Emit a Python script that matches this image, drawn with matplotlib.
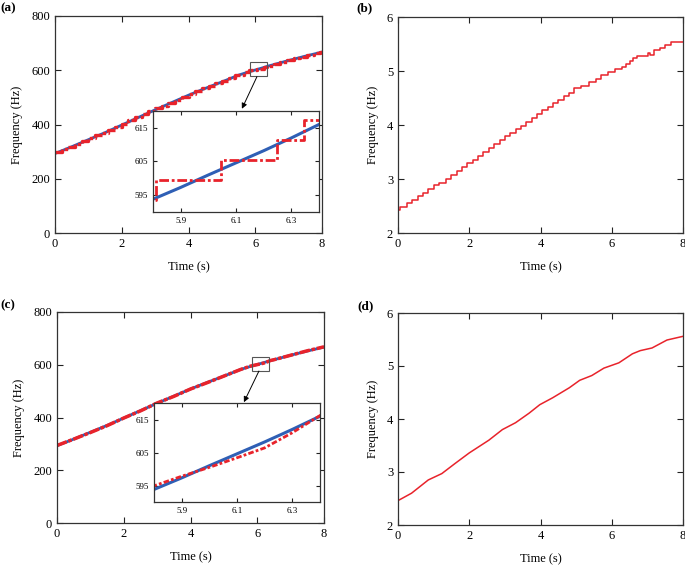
import numpy as np
import matplotlib
matplotlib.use("Agg")
import matplotlib.pyplot as plt
from matplotlib.patches import Rectangle

plt.rcParams['font.family'] = ['Liberation Serif', 'DejaVu Serif']

# reference frequency (blue) for (a) and (c)
t_ref = [0, 0.5, 1, 1.5, 2, 2.5, 3, 3.5, 4, 4.5, 5, 5.5, 5.8, 5.9, 6.0, 6.1, 6.2, 6.3, 6.4, 6.5, 7, 7.5, 8]
f_ref = [293, 318, 344, 370, 398, 426, 454, 481, 508, 533, 557, 582, 593.8, 597.3, 601, 604.6, 608.2, 612, 616, 619, 636, 652, 667]

# (a) stepped estimate (red dash-dot)
t_step_a = [0, 0.2, 0.4, 0.6, 0.8, 1.0, 1.2, 1.4, 1.6, 1.8, 2.0, 2.2, 2.4, 2.6, 2.8, 3.0,
            3.2, 3.4, 3.6, 3.8, 4.0, 4.2, 4.4, 4.6, 4.8, 5.0, 5.2, 5.4, 5.65, 5.812, 6.045,
            6.248, 6.344, 6.55, 6.75, 6.95, 7.15, 7.35, 7.55, 7.75, 7.95, 8.0]
f_step_a = [298, 308, 318, 329, 339, 349, 360, 370, 381, 392, 403, 415, 426, 437, 448, 460,
            470, 481, 492, 502, 513, 523, 533, 542, 552, 562, 572, 581, 593.7, 599.6, 605.4,
            611.3, 617.2, 624, 631, 638, 644, 650, 656, 662, 667, 667]

# (c) smooth estimate (red)
t_est_c = [0, 0.5, 1, 1.5, 2, 2.5, 3, 3.5, 4, 4.5, 5, 5.5, 5.8, 5.9, 6.0, 6.1, 6.2, 6.3, 6.4, 6.5, 7, 7.5, 8]
f_est_c = [294, 318, 343, 369, 398, 425, 455, 480, 508, 532, 557, 582, 594.9, 597.8, 600.5, 603.4, 606.4, 611, 616.2, 619, 636, 653, 668]

# (b) stepped rate estimate
t_b = [0, 0.05, 0.25, 0.4, 0.55, 0.7, 0.85, 1.0, 1.15, 1.35, 1.5, 1.65, 1.8, 1.95, 2.1, 2.25,
       2.4, 2.55, 2.7, 2.85, 3.0, 3.15, 3.3, 3.45, 3.6, 3.75, 3.9, 4.05, 4.2, 4.35, 4.5, 4.65,
       4.8, 4.95, 5.15, 5.35, 5.55, 5.7, 5.9, 6.1, 6.3, 6.4, 6.5, 6.6, 6.7, 7.02, 7.06, 7.2,
       7.35, 7.5, 7.65, 8.0]
f_b = [2.43, 2.48, 2.55, 2.61, 2.68, 2.75, 2.82, 2.88, 2.93, 3.0, 3.08, 3.15, 3.22, 3.3, 3.36, 3.43,
       3.5, 3.57, 3.64, 3.72, 3.8, 3.85, 3.92, 3.99, 4.06, 4.13, 4.2, 4.27, 4.33, 4.4, 4.46, 4.53,
       4.6, 4.68, 4.73, 4.79, 4.86, 4.92, 4.99, 5.03, 5.08, 5.13, 5.19, 5.24, 5.28, 5.33, 5.29, 5.38,
       5.43, 5.49, 5.53, 5.53]

# (d) smooth rate estimate
t_d = [0, 0.38, 0.85, 1.23, 1.6, 2.0, 2.55, 2.93, 3.3, 3.68, 3.98, 4.34, 4.81, 5.1, 5.44, 5.78,
       6.2, 6.58, 6.8, 7.13, 7.55, 8.0]
f_d = [2.46, 2.6, 2.85, 2.97, 3.16, 3.36, 3.6, 3.8, 3.93, 4.11, 4.27, 4.4, 4.59, 4.73, 4.82, 4.96,
       5.06, 5.23, 5.29, 5.34, 5.49, 5.56]

BLUE = '#2f5fb5'
RED = '#e8232b'
W, H = 685, 566

fig = plt.figure(figsize=(W / 100, H / 100), dpi=100)


def box(l, t, r, b):
    return [l / W, 1 - b / H, (r - l) / W, (b - t) / H]


def style(ax, fs=9):
    ax.tick_params(direction='in', top=True, right=True, length=4, width=0.8,
                   labelsize=fs, colors='#222222', labelcolor='black')
    for s in ax.spines.values():
        s.set_linewidth(0.9)
        s.set_color('#333333')


def draw_est(ax, t, f, kw, step):
    if step:
        ax.plot(t, f, drawstyle='steps-post', **kw)
    else:
        ax.plot(t, f, **kw)


def freq_panel(rect, inset_rect, est_t, est_f, main_kw, ins_kw, step):
    ax = fig.add_axes(box(*rect))
    ax.plot(t_ref, f_ref, color=BLUE, lw=2.0)
    draw_est(ax, est_t, est_f, main_kw, step)
    ax.set_xlim(0, 8)
    ax.set_ylim(0, 800)
    ax.set_xticks([0, 2, 4, 6, 8])
    ax.set_yticks([0, 200, 400, 600, 800])
    ax.set_xlabel('Time (s)', fontsize=9, labelpad=8)
    ax.set_ylabel('Frequency (Hz)', fontsize=9, labelpad=6)
    style(ax)
    ax.add_patch(Rectangle((5.85, 578), 0.5, 52, fill=False, ec='#555555', lw=0.8, zorder=5))
    ax.annotate('', xy=(5.6, 458), xytext=(6.05, 576),
                arrowprops=dict(arrowstyle='-|>', color='black', lw=0.7,
                                mutation_scale=8, shrinkA=0, shrinkB=0), zorder=6)

    ins = fig.add_axes(box(*inset_rect))
    ins.plot(t_ref, f_ref, color=BLUE, lw=2.2)
    draw_est(ins, est_t, est_f, ins_kw, step)
    ins.set_xlim(5.8, 6.4)
    ins.set_ylim(590, 620)
    ins.set_xticks([5.9, 6.1, 6.3])
    ins.set_yticks([595, 605, 615])
    style(ins, fs=6.5)
    ins.tick_params(length=3)
    return ax


def rate_panel(rect, t, f, step):
    ax = fig.add_axes(box(*rect))
    if step:
        ax.plot(t, f, color=RED, lw=1.1, drawstyle='steps-post')
    else:
        ax.plot(t, f, color=RED, lw=1.1)
    ax.set_xlim(0, 8)
    ax.set_ylim(2, 6)
    ax.set_xticks([0, 2, 4, 6, 8])
    ax.set_yticks([2, 3, 4, 5, 6])
    ax.set_xlabel('Time (s)', fontsize=9, labelpad=8)
    ax.set_ylabel('Frequency (Hz)', fontsize=9, labelpad=6)
    style(ax)
    return ax


freq_panel((55, 16, 322, 233), (153, 111, 319, 212), t_step_a, f_step_a,
           dict(color=RED, lw=2.4, ls=(0, (3.0, 0.7, 1.0, 0.7))),
           dict(color=RED, lw=2.0, ls=(0, (3.5, 1.0, 1.0, 1.0))), True)
rate_panel((398, 17, 683, 233), t_b, f_b, True)
freq_panel((57, 312, 324, 523), (154, 403, 320, 502), t_est_c, f_est_c,
           dict(color=RED, lw=2.5, ls=(0, (3.0, 0.5, 1.0, 0.5))),
           dict(color=RED, lw=2.0, ls=(0, (2.0, 0.8, 1.0, 0.8))), False)
rate_panel((398, 313, 683, 525), t_d, f_d, False)

for lab, x, y in [('(a)', 0, 8), ('(b)', 356, 8), ('(c)', 0, 305), ('(d)', 357, 306)]:
    fig.text(x / W, 1 - y / H, lab, fontsize=9.5, fontweight='bold', va='center', ha='left')

fig.savefig('out.png', dpi=100)
